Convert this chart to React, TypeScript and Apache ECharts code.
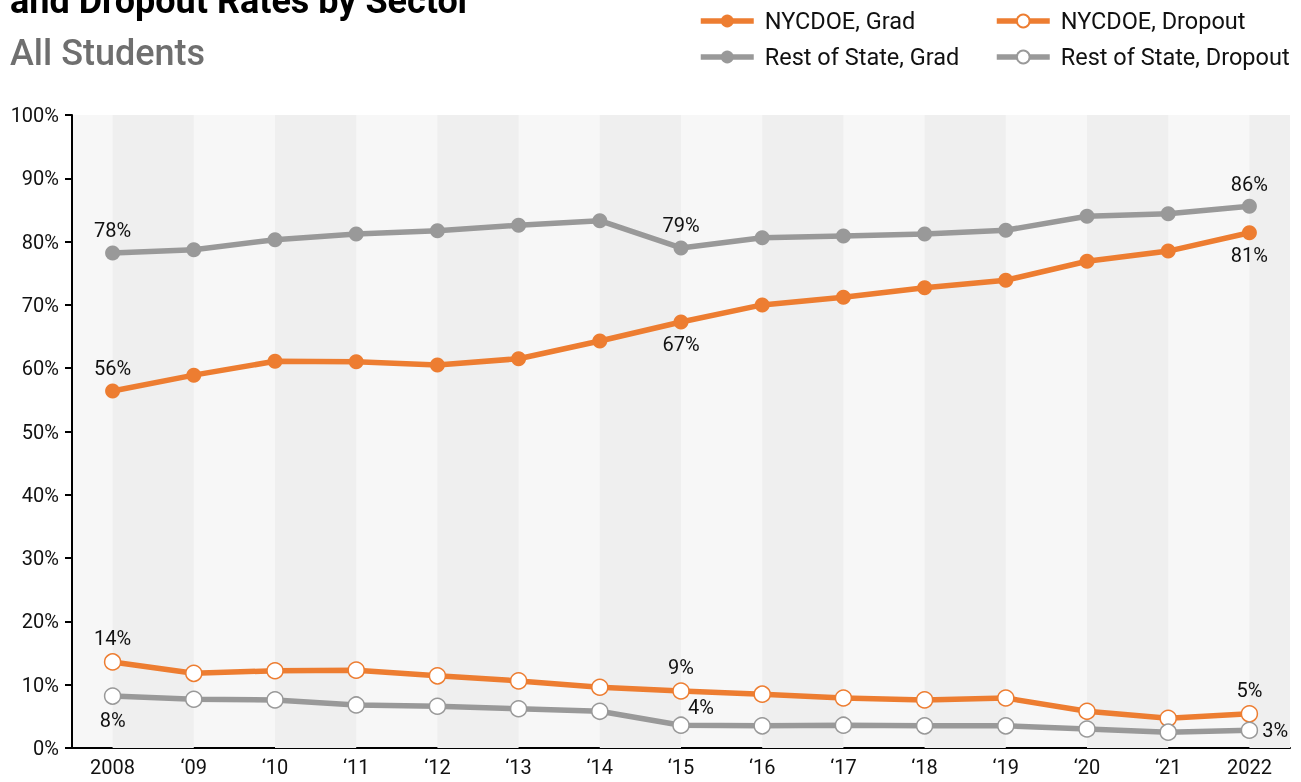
import React, { useEffect, useRef } from "react";
import * as echarts from "echarts";

const years = ["2008", "\u201809", "\u201810", "\u201811", "\u201812", "\u201813", "\u201814", "\u201815", "\u201816", "\u201817", "\u201818", "\u201819", "\u201820", "\u201821", "2022"];
const nycGrad = [56.4, 58.9, 61.1, 61.0, 60.5, 61.5, 64.3, 67.3, 70.0, 71.2, 72.7, 73.9, 76.9, 78.5, 81.4];
const rosGrad = [78.2, 78.7, 80.3, 81.2, 81.7, 82.6, 83.3, 79.0, 80.6, 80.9, 81.2, 81.8, 84.0, 84.4, 85.6];
const nycDrop = [13.6, 11.8, 12.2, 12.3, 11.4, 10.6, 9.6, 9.0, 8.5, 7.9, 7.6, 7.9, 5.8, 4.7, 5.4];
const rosDrop = [8.2, 7.7, 7.6, 6.8, 6.6, 6.2, 5.8, 3.6, 3.5, 3.6, 3.5, 3.5, 3.0, 2.5, 2.8];
const yTicks = [0, 10, 20, 30, 40, 50, 60, 70, 80, 90, 100];
const labelledIdx = [0, 7, 14];
const bandIdx = [0, 2, 4, 6, 8, 10, 12, 14];

const ORANGE = "#ED7D31";
const GRAY = "#999999";
const FONT = "Roboto";

function buildData(values: number[], positions: any[]) {
  return values.map((v, i) => {
    const k = labelledIdx.indexOf(i);
    if (k < 0) return v;
    const p = positions[k];
    return {
      value: v,
      label: {
        show: true,
        position: p.position,
        offset: p.offset || [0, 0],
        distance: p.distance ?? 5,
        formatter: (x: any) => Math.round(x.value) + "%",
        fontFamily: FONT,
        fontSize: 20,
        color: "#111",
      },
    };
  });
}

function lineSeries(name: string, values: number[], color: string, hollow: boolean, positions: any[]) {
  return {
    name,
    type: "line",
    data: buildData(values, positions),
    z: 3,
    symbol: "circle",
    symbolSize: hollow ? 16 : 15,
    lineStyle: { color, width: 5.5 },
    itemStyle: hollow
      ? { color: "#ffffff", borderColor: color, borderWidth: 1.5 }
      : { color, borderWidth: 0 },
    label: { show: false },
    emphasis: { disabled: true },
  };
}

export default function App() {
  const ref = useRef<HTMLDivElement>(null);
  useEffect(() => {
    if (!ref.current) return;
    const chart = echarts.init(ref.current, undefined, { renderer: "svg" });
    const legendBase = {
      orient: "horizontal",
      padding: 0,
      itemWidth: 53,
      itemHeight: 16,
      selectedMode: false,
      lineStyle: { width: 5.5 },
      textStyle: { fontFamily: FONT, fontSize: 23.5, color: "#111", padding: [0, 0, 0, 6] },
    };
    chart.setOption({
      animation: false,
      textStyle: { fontFamily: FONT },
      graphic: [
        {
          type: "text",
          left: 10,
          top: -17,
          style: { text: "and Dropout Rates by Sector", fontFamily: FONT, fontSize: 36, fontWeight: "bold", fill: "#000" },
        },
        {
          type: "text",
          left: 10,
          top: 35,
          style: { text: "All Students", fontFamily: FONT, fontSize: 36, fontWeight: 500, fill: "#6f6f6f" },
        },
      ],
      legend: [
        { ...legendBase, left: 698, top: 9, data: ["NYCDOE, Grad"] },
        { ...legendBase, left: 994, top: 9, data: ["NYCDOE, Dropout"] },
        { ...legendBase, left: 698, top: 45, data: ["Rest of State, Grad"] },
        { ...legendBase, left: 994, top: 45, data: ["Rest of State, Dropout"] },
      ],
      grid: {
        left: 72,
        right: 11,
        top: 115,
        bottom: 34,
        show: true,
        backgroundColor: "#f7f7f7",
        borderWidth: 0,
      },
      xAxis: {
        type: "category",
        data: years,
        boundaryGap: true,
        axisLine: { lineStyle: { color: "#000", width: 2 } },
        axisTick: { alignWithLabel: true, length: 8, lineStyle: { color: "#000", width: 2 } },
        axisLabel: { fontFamily: FONT, fontSize: 20, color: "#111", margin: 9 },
        splitLine: { show: false },
      },
      yAxis: {
        type: "value",
        min: yTicks[0],
        max: yTicks[yTicks.length - 1],
        interval: 10,
        axisLine: { show: true, lineStyle: { color: "#000", width: 2 } },
        axisTick: { show: true, length: 7, lineStyle: { color: "#000", width: 2 } },
        axisLabel: { fontFamily: FONT, fontSize: 20, color: "#111", margin: 13, formatter: "{value}%" },
        splitLine: { show: false },
      },
      series: [
        {
          type: "custom",
          name: "bands",
          silent: true,
          z: 1,
          data: bandIdx.map((i) => [i, 0]),
          renderItem: (params: any, api: any) => {
            const cs = params.coordSys;
            const idx = api.value(0);
            const c = api.coord([idx, 0]);
            const w = api.size([1, 0])[0];
            const x0 = c[0];
            const x1 = Math.min(x0 + w, cs.x + cs.width);
            return {
              type: "rect",
              shape: { x: x0, y: cs.y, width: x1 - x0, height: cs.height },
              style: { fill: "#efefef" },
            };
          },
        },
        lineSeries("NYCDOE, Grad", nycGrad, ORANGE, false, [
          { position: "top" },
          { position: "bottom" },
          { position: "bottom" },
        ]),
        lineSeries("Rest of State, Grad", rosGrad, GRAY, false, [
          { position: "top" },
          { position: "top" },
          { position: "top" },
        ]),
        lineSeries("NYCDOE, Dropout", nycDrop, ORANGE, true, [
          { position: "top" },
          { position: "top" },
          { position: "top" },
        ]),
        lineSeries("Rest of State, Dropout", rosDrop, GRAY, true, [
          { position: "bottom" },
          { position: "top", offset: [20, 6] },
          { position: "right", distance: 4 },
        ]),
      ],
    });
    return () => chart.dispose();
  }, []);
  return <div ref={ref} style={{ position: "fixed", left: 0, top: 0, width: 1301, height: 782 }} />;
}
